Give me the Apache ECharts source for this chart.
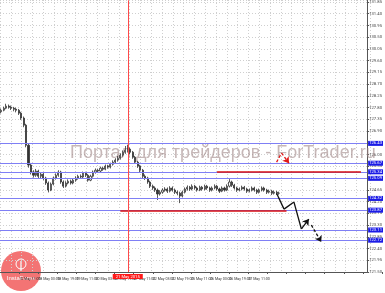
<!DOCTYPE html>
<html><head><meta charset="utf-8">
<script src="https://cdn.jsdelivr.net/npm/echarts@6/dist/echarts.min.js"></script>
<style>html,body{margin:0;padding:0;background:#fff}#c{width:385px;height:293px}</style>
</head><body><div id="c"></div>
<script>
const opens  = [127.64,127.70,127.78,127.86,127.82,127.78,127.74,127.70,127.59,127.40,127.13,126.36,125.60,125.33,125.21,125.37,125.17,125.25,125.10,124.91,124.64,124.87,125.10,125.21,125.33,124.95,124.79,124.91,124.98,124.91,125.02,125.10,125.17,125.14,125.29,125.21,125.02,125.17,125.33,125.40,125.37,125.48,125.44,125.56,125.52,125.63,125.71,125.79,125.86,125.98,126.09,126.17,126.21,126.09,125.90,125.71,125.56,125.40,125.17,125.10,124.95,124.79,124.72,124.64,124.49,124.56,124.64,124.68,124.60,124.72,124.64,124.56,124.52,124.41,124.56,124.68,124.75,124.68,124.79,124.72,124.64,124.75,124.68,124.79,124.72,124.64,124.72,124.79,124.68,124.60,124.72,124.64,124.79,124.95,124.83,124.72,124.64,124.68,124.75,124.68,124.60,124.64,124.72,124.64,124.56,124.64,124.72,124.64,124.56,124.60,124.52,124.56,124.52];
const closes = [127.70,127.78,127.86,127.82,127.78,127.74,127.70,127.59,127.40,127.13,126.36,125.60,125.33,125.21,125.37,125.17,125.25,125.10,124.91,124.64,124.87,125.10,125.21,125.33,124.95,124.79,124.91,124.98,124.91,125.02,125.10,125.17,125.14,125.29,125.21,125.02,125.17,125.33,125.40,125.37,125.48,125.44,125.56,125.52,125.63,125.71,125.79,125.86,125.98,126.09,126.17,126.21,126.09,125.90,125.71,125.56,125.40,125.17,125.10,124.95,124.79,124.72,124.64,124.49,124.56,124.64,124.68,124.60,124.72,124.64,124.56,124.52,124.41,124.56,124.68,124.75,124.68,124.79,124.72,124.64,124.75,124.68,124.79,124.72,124.64,124.72,124.79,124.68,124.60,124.72,124.64,124.79,124.95,124.83,124.72,124.64,124.68,124.75,124.68,124.60,124.64,124.72,124.64,124.56,124.64,124.72,124.64,124.56,124.60,124.52,124.56,124.52,124.52];
const lows   = [127.58,127.66,127.74,127.76,127.71,127.66,127.62,127.52,127.33,127.05,126.28,125.50,125.24,125.12,125.15,125.10,125.08,125.02,124.84,124.55,124.60,124.82,125.04,125.15,124.88,124.72,124.74,124.86,124.85,124.86,124.96,125.04,125.07,125.09,125.14,124.96,124.98,125.12,125.27,125.30,125.32,125.38,125.40,125.46,125.47,125.58,125.66,125.73,125.81,125.92,126.03,126.08,126.02,125.84,125.64,125.49,125.33,125.10,125.03,124.88,124.72,124.65,124.57,124.26,124.43,124.50,124.58,124.53,124.55,124.58,124.49,124.44,124.14,124.36,124.51,124.62,124.61,124.63,124.66,124.58,124.60,124.62,124.63,124.65,124.57,124.59,124.67,124.62,124.53,124.56,124.58,124.60,124.74,124.76,124.66,124.57,124.59,124.63,124.62,124.53,124.55,124.59,124.58,124.49,124.51,124.59,124.58,124.49,124.51,124.45,124.47,124.45,124.46];
const highs  = [127.76,127.84,127.95,127.92,127.88,127.83,127.80,127.75,127.64,127.46,127.18,126.42,125.68,125.40,125.45,125.42,125.33,125.30,125.15,124.97,124.93,125.16,125.28,125.40,125.38,125.01,124.98,125.05,125.04,125.09,125.17,125.23,125.24,125.35,125.34,125.26,125.23,125.39,125.47,125.45,125.54,125.53,125.62,125.61,125.69,125.78,125.86,125.95,126.05,126.16,126.33,126.38,126.27,126.14,125.95,125.76,125.61,125.45,125.24,125.15,125.00,124.85,124.78,124.70,124.63,124.71,124.75,124.74,124.79,124.78,124.70,124.62,124.58,124.62,124.74,124.82,124.80,124.86,124.84,124.77,124.81,124.80,124.85,124.84,124.77,124.78,124.86,124.84,124.73,124.78,124.77,124.86,125.06,125.00,124.88,124.77,124.74,124.81,124.80,124.73,124.70,124.78,124.77,124.69,124.70,124.78,124.77,124.69,124.66,124.65,124.62,124.61,124.58];

const barCount = 148;
const yMin = 121.5, yMax = 131.915, yStep = 0.45;
const timeLabels = ['15 May 2015','15 May 11:00','18 May 03:00','18 May 19:00','19 May 11:00','20 May 03:00','20 May 19:00','21 May 11:00','22 May 03:00','22 May 19:00','25 May 11:00','26 May 03:00','26 May 19:00','27 May 11:00'];
const levels = [126.43, 125.67, 125.34, 125.09, 124.32, 123.87, 123.11, 122.72];
const lastPrice = 124.52;
const redLevelY = [125.36, 123.83];
const redLevelFrom = [87, 48];
const redLevelTo = [145, 115];
const markerBar = 51;
const markerLabel = '21 May 2015';
const projBlackX = [111, 114, 118, 121, 124];
const projBlackY = [124.52, 123.91, 124.18, 123.15, 123.53];
const projDashX = [125, 129];
const projDashY = [123.30, 122.65];
const projRedX = [111, 113, 116];
const projRedY = [125.71, 126.06, 125.67];

const cats = Array.from({length: barCount}, (_, i) => String(i));
const ohlc = opens.map((o, i) => [o, closes[i], lows[i], highs[i]]);

function segs(xs, ys, color, dashed) {
  const out = [];
  for (let i = 0; i < xs.length - 1; i++) {
    out.push([
      {coord: [xs[i], ys[i]], symbol: 'none'},
      {coord: [xs[i + 1], ys[i + 1]], symbol: i === xs.length - 2 ? 'arrow' : 'none', symbolSize: 6,
       lineStyle: {color: color, width: 1.3, type: dashed ? [3, 2] : 'solid'}}
    ]);
  }
  return out;
}

const tagLabel = (bg) => ({show: true, position: 'end', distance: 1, formatter: p => p.value.toFixed(2),
  fontSize: 4.2, fontFamily: 'Roboto', color: '#fff', backgroundColor: bg, padding: [1, 1, 0, 1]});

const levelLines = levels.map(v => ({yAxis: v, label: tagLabel('#1b1be6'),
  lineStyle: {color: '#7f7ff5', width: 1, type: 'solid'}}));
levelLines.push({yAxis: lastPrice, label: tagLabel('#111'), lineStyle: {opacity: 0}});
redLevelY.forEach((v, k) => levelLines.push([
  {coord: [redLevelFrom[k], v], symbol: 'none'},
  {coord: [redLevelTo[k], v], symbol: 'none', lineStyle: {color: '#d81010', width: 1.5, type: 'solid'}}
]));

const chart = echarts.init(document.getElementById('c'), null, {renderer: 'canvas'});
chart.setOption({
  animation: false,
  backgroundColor: '#ffffff',
  grid: [
    {left: 0, right: 15, top: 0, bottom: 21},
    {left: -3.4, width: 373.4, top: 0, bottom: 21},
    {left: -5, width: 400, top: 0, bottom: 21}
  ],
  xAxis: [
    {type: 'category', gridIndex: 0, data: cats, boundaryGap: true,
     axisLine: {lineStyle: {color: '#555', width: 1}}, axisTick: {show: false}, axisLabel: {show: false}, splitLine: {show: false}},
    {type: 'value', gridIndex: 1, min: 0, max: 34.26, interval: 1,
     axisLine: {show: false}, axisTick: {show: false}, axisLabel: {show: false},
     splitLine: {show: true, lineStyle: {color: '#cfcfcf', type: [1, 2], width: 1}}},
    {type: 'value', gridIndex: 2, min: 0, max: 20, interval: 1,
     axisLine: {show: false}, axisTick: {show: true, length: 2, lineStyle: {color: '#555'}}, splitLine: {show: false},
     axisLabel: {show: true, fontSize: 3.6, fontFamily: 'Roboto', color: '#333', align: 'left', margin: 5,
       formatter: v => timeLabels[v] || ''}}
  ],
  yAxis: [
    {type: 'value', gridIndex: 0, position: 'right', min: yMin, max: yMax, interval: yStep,
     axisLine: {show: true, lineStyle: {color: '#555'}}, axisTick: {show: true, length: 2, lineStyle: {color: '#555'}},
     axisLabel: {fontSize: 4.2, fontFamily: 'Roboto', color: '#444', margin: 2, formatter: v => v.toFixed(2), showMaxLabel: false},
     splitLine: {show: true, lineStyle: {color: '#cfcfcf', type: [1, 2], width: 1}}},
    {type: 'value', gridIndex: 1, show: false, splitLine: {show: false}},
    {type: 'value', gridIndex: 2, show: false, splitLine: {show: false}}
  ],
  graphic: [
    {type: 'text', left: 70, top: 144, z: 1, silent: true,
     style: {text: 'Портал для трейдеров - ForTrader.ru', font: '18px "Liberation Sans"', fill: 'rgba(160,135,135,0.6)', width: 320, overflow: 'none'}},
    {type: 'group', left: 1, top: 251, z: 100, children: [
      {type: 'circle', shape: {cx: 20, cy: 20, r: 20}, style: {fill: 'rgba(240,85,85,0.82)'}},
      {type: 'circle', shape: {cx: 20, cy: 13, r: 5}, style: {fill: 'none', stroke: '#fff', lineWidth: 1}},
      {type: 'line', shape: {x1: 20, y1: 10, x2: 20, y2: 20}, style: {stroke: '#fff', lineWidth: 1.2}},
      {type: 'text', x: 20, y: 24, style: {text: 'InstaForex', font: '6px "Liberation Sans"', fill: '#fff', align: 'center'}}
    ]}
  ],
  series: [
    {type: 'candlestick', xAxisIndex: 0, yAxisIndex: 0, data: ohlc, barWidth: 1.6, z: 3,
     itemStyle: {color: '#ffffff', color0: '#333', borderColor: '#333', borderColor0: '#333', borderWidth: 0.8},
     markLine: {silent: true, symbol: 'none', animation: false, data: levelLines}},
    {type: 'line', xAxisIndex: 0, yAxisIndex: 0, data: [], z: 4,
     markLine: {silent: true, animation: false, label: {show: false},
       data: [].concat(segs(projBlackX, projBlackY, '#111', false), segs(projDashX, projDashY, '#111', true), segs(projRedX, projRedY, '#e01818', true))}},
    {type: 'line', xAxisIndex: 0, yAxisIndex: 0, data: [], z: 5,
     markLine: {silent: true, animation: false, symbol: 'none',
       lineStyle: {color: '#ff4a4a', width: 1, type: 'solid'},
       label: {show: true, position: 'start', distance: 2, formatter: markerLabel, fontSize: 4.2, fontFamily: 'Roboto',
         color: '#fff', backgroundColor: '#ff1a1a', padding: [1, 3, 0, 3]},
       data: [{xAxis: markerBar}]}}
  ]
});
</script></body></html>
